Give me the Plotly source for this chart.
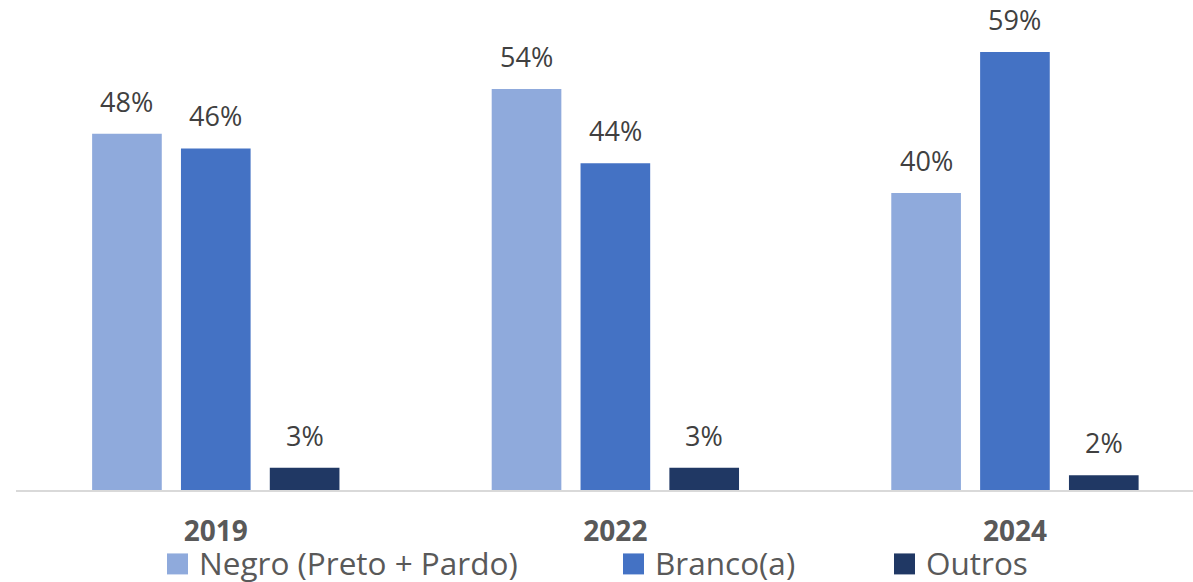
import plotly.graph_objects as go

# Survey years and share of respondents by race/colour (%)
years = ["2019", "2022", "2024"]
series_names = ["Negro (Preto + Pardo)", "Branco(a)", "Outros"]
negro = [48, 54, 40]
branco = [46, 44, 59]
outros = [3, 3, 2]
colors = ["#8FAADC", "#4472C4", "#203864"]

values = [negro, branco, outros]

W, H = 1193, 582
L, R, T, B = 16, 0, 0, 91.5
plot_w = W - L - R
plot_h = H - T - B

FONT = "Open Sans"
LABEL_COLOR = "#404040"
AXIS_COLOR = "#595959"

fig = go.Figure()
for name, vals, col in zip(series_names, values, colors):
    fig.add_trace(go.Bar(
        x=years, y=vals, name=name,
        marker=dict(color=col, line=dict(width=0)),
        showlegend=False,
    ))

# category width in px and horizontal offset of each bar in a group
x_range = [-0.5, 2.4456]
cat_px = plot_w / (x_range[1] - x_range[0])
bargap = 0.333
slot_px = cat_px * (1 - bargap) / 3

annotations = []
for j, vals in enumerate(values):
    for i, v in enumerate(vals):
        # category axis position given by index (year strings look numeric)
        annotations.append(dict(
            x=i, y=v, xref="x", yref="y",
            text=f"{v}%", showarrow=False,
            xshift=(j - 1) * slot_px, yshift=12,
            yanchor="bottom", xanchor="center",
            font=dict(family=FONT, size=27, color=LABEL_COLOR),
        ))


def px_to_paper(px, py):
    return (px - L) / plot_w, (H - B - py) / plot_h


# legend row beneath the year labels
legend_x = [167, 623, 894]
legend_top, sq = 554, 21
shapes = []
for name, col, lx in zip(series_names, colors, legend_x):
    x0, y0 = px_to_paper(lx, legend_top + sq)
    x1, y1 = px_to_paper(lx + sq, legend_top)
    shapes.append(dict(type="rect", xref="paper", yref="paper",
                       x0=x0, y0=y0, x1=x1, y1=y1,
                       fillcolor=col, line=dict(width=0)))
    tx, ty = px_to_paper(lx + sq + 9, legend_top + sq / 2 - 1)
    annotations.append(dict(
        x=tx, y=ty, xref="paper", yref="paper", text=name,
        showarrow=False, xanchor="left", yanchor="middle",
        font=dict(family=FONT, size=31.5, color=AXIS_COLOR),
    ))

fig.update_layout(
    width=W, height=H,
    margin=dict(l=L, r=R, t=T, b=B, pad=0),
    paper_bgcolor="white", plot_bgcolor="white",
    barmode="group", bargap=bargap, bargroupgap=0.216,
    annotations=annotations, shapes=shapes,
    showlegend=False,
    xaxis=dict(
        type="category", range=x_range,
        showline=True, linecolor="#D9D9D9", linewidth=1.5,
        showgrid=False, ticks="", ticklabelstandoff=16,
        tickfont=dict(family=FONT, size=28, color=AXIS_COLOR, weight="bold"),
        fixedrange=True,
    ),
    yaxis=dict(
        range=[0, 66], visible=False, showgrid=False, zeroline=False,
        fixedrange=True,
    ),
)

fig.write_html("out.html")
